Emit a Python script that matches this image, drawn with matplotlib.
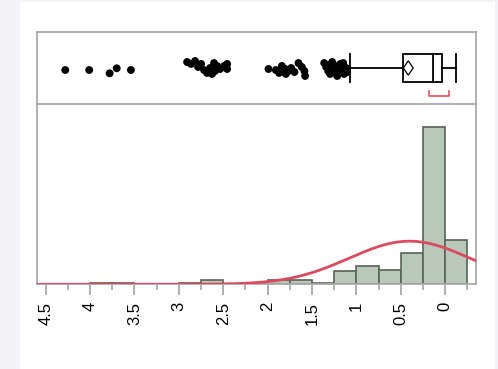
import numpy as np
import matplotlib
matplotlib.use("Agg")
import matplotlib.pyplot as plt
from matplotlib.patches import Rectangle, Polygon

# histogram (bin edges, counts)
bin_edges = [4.0, 3.75, 3.5, 3.25, 3.0, 2.75, 2.5, 2.25, 2.0, 1.75, 1.5, 1.25,
             1.0, 0.75, 0.5, 0.25, 0.0, -0.25]
counts = [1, 1, 0, 0, 1, 3, 0, 0, 3, 3, 0.7, 10, 14, 11, 24, 121, 34]

# fitted normal
fit_mean = 0.40
fit_sd = 0.68

# outlier box plot summary
q3, median, q1 = 0.47, 0.14, 0.03
whisk_lo, whisk_hi = -0.12, 1.07
mean_lo, mean_hi = 0.36, 0.47
short_lo, short_hi = -0.04, 0.18

# jittered outlier points (value, jitter height)
pts_x = [4.28, 4.01, 3.78, 3.70, 3.54,
         2.907, 2.862, 2.817, 2.783, 2.749, 2.716, 2.682, 2.648, 2.626, 2.592,
         2.569, 2.535, 2.490, 2.456, 2.456, 2.603,
         1.990, 1.907, 1.870, 1.839, 1.802, 1.765, 1.734, 1.697, 1.652, 1.614,
         1.585, 1.577, 1.794,
         1.362, 1.340, 1.317, 1.295, 1.272, 1.250, 1.227, 1.205, 1.182, 1.160,
         1.137, 1.115, 1.103, 1.306, 1.216, 1.148, 1.25, 1.19]
pts_y = [0.472, 0.472, 0.426, 0.496, 0.472,
         0.583, 0.556, 0.597, 0.514, 0.556, 0.472, 0.431, 0.500, 0.417, 0.458,
         0.528, 0.486, 0.528, 0.556, 0.486, 0.569,
         0.486, 0.472, 0.431, 0.528, 0.486, 0.458, 0.500, 0.444, 0.569, 0.514,
         0.458, 0.389, 0.417,
         0.569, 0.514, 0.458, 0.417, 0.583, 0.486, 0.431, 0.528, 0.556, 0.472,
         0.417, 0.500, 0.444, 0.542, 0.389, 0.569, 0.458, 0.514]

tick_vals = [4.5, 4, 3.5, 3, 2.5, 2, 1.5, 1, 0.5, 0]
tick_labels = ["4.5", "4", "3.5", "3", "2.5", "2", "1.5", "1", "0.5", "0"]

plt.rcParams['font.family'] = ['Liberation Sans', 'DejaVu Sans']

fig = plt.figure(figsize=(4.98, 3.69), dpi=100)
fig.patch.set_facecolor('#f3f2f7')
fig.add_artist(Rectangle((20 / 498, 0), 475 / 498, 367 / 369, transform=fig.transFigure,
                         facecolor='white', edgecolor='none', zorder=-1))

xlim = (4.595, -0.345)
frame = '#aaaaaa'

ax_box = fig.add_axes([0.0749, 0.7182, 0.8803, 0.1951])
ax_hist = fig.add_axes([0.0749, 0.2295, 0.8803, 0.4887])

for ax in (ax_box, ax_hist):
    ax.set_xlim(*xlim)
    ax.patch.set_alpha(0)
    for s in ax.spines.values():
        s.set_color(frame)
        s.set_linewidth(1.3)

# box plot panel
ax_box.set_ylim(0, 1)
ax_box.set_xticks([])
ax_box.set_yticks([])
ax_box.spines['bottom'].set_visible(False)
ax_box.scatter(pts_x, pts_y, s=32, color='black', edgecolors='none', zorder=3)
yc, hb = 0.5, 0.197
ax_box.add_patch(Rectangle((q1, yc - hb), q3 - q1, 2 * hb, facecolor='none',
                           edgecolor='black', linewidth=1.3, zorder=2))
ax_box.plot([median, median], [yc - hb, yc + hb], color='black', lw=1.3)
ax_box.plot([q3, whisk_hi], [yc, yc], color='black', lw=1.3)
ax_box.plot([q1, whisk_lo], [yc, yc], color='black', lw=1.3)
for w in (whisk_lo, whisk_hi):
    ax_box.plot([w, w], [yc - hb, yc + hb], color='black', lw=1.3)
mid = (mean_lo + mean_hi) / 2
ax_box.add_patch(Polygon([(mean_hi, yc), (mid, yc + 0.1), (mean_lo, yc), (mid, yc - 0.1)],
                         closed=True, facecolor='white', edgecolor='black', lw=0.9, zorder=4))
ax_box.plot([short_lo, short_lo, short_hi, short_hi], [0.18, 0.111, 0.111, 0.18],
            color='#e8505b', lw=1.2)

# histogram panel
widths = np.diff(bin_edges)
ax_hist.bar(bin_edges[:-1], counts, width=widths, align='edge', color='#b9c9b9',
            edgecolor='#5a6358', linewidth=1.2, zorder=2)
xs = np.linspace(xlim[0], xlim[1], 300)
n_total = sum(counts)
pdf = n_total * 0.25 / (fit_sd * np.sqrt(2 * np.pi)) * np.exp(-0.5 * ((xs - fit_mean) / fit_sd) ** 2)
ax_hist.plot(xs, pdf, color='#dc4a5e', lw=2.0, zorder=3)
ax_hist.set_ylim(0, 139)
ax_hist.set_yticks([])
ax_hist.set_xticks(tick_vals)
ax_hist.set_xticklabels(tick_labels, rotation=90, fontsize=12)
ax_hist.set_xticks(np.arange(4.25, -0.3, -0.5), minor=True)
ax_hist.tick_params(axis='x', which='major', length=8, width=1.3, color=frame, pad=4.5)
ax_hist.tick_params(axis='x', which='minor', length=4.5, width=1.3, color=frame)

fig.savefig('out.png', dpi=100, facecolor=fig.get_facecolor())
